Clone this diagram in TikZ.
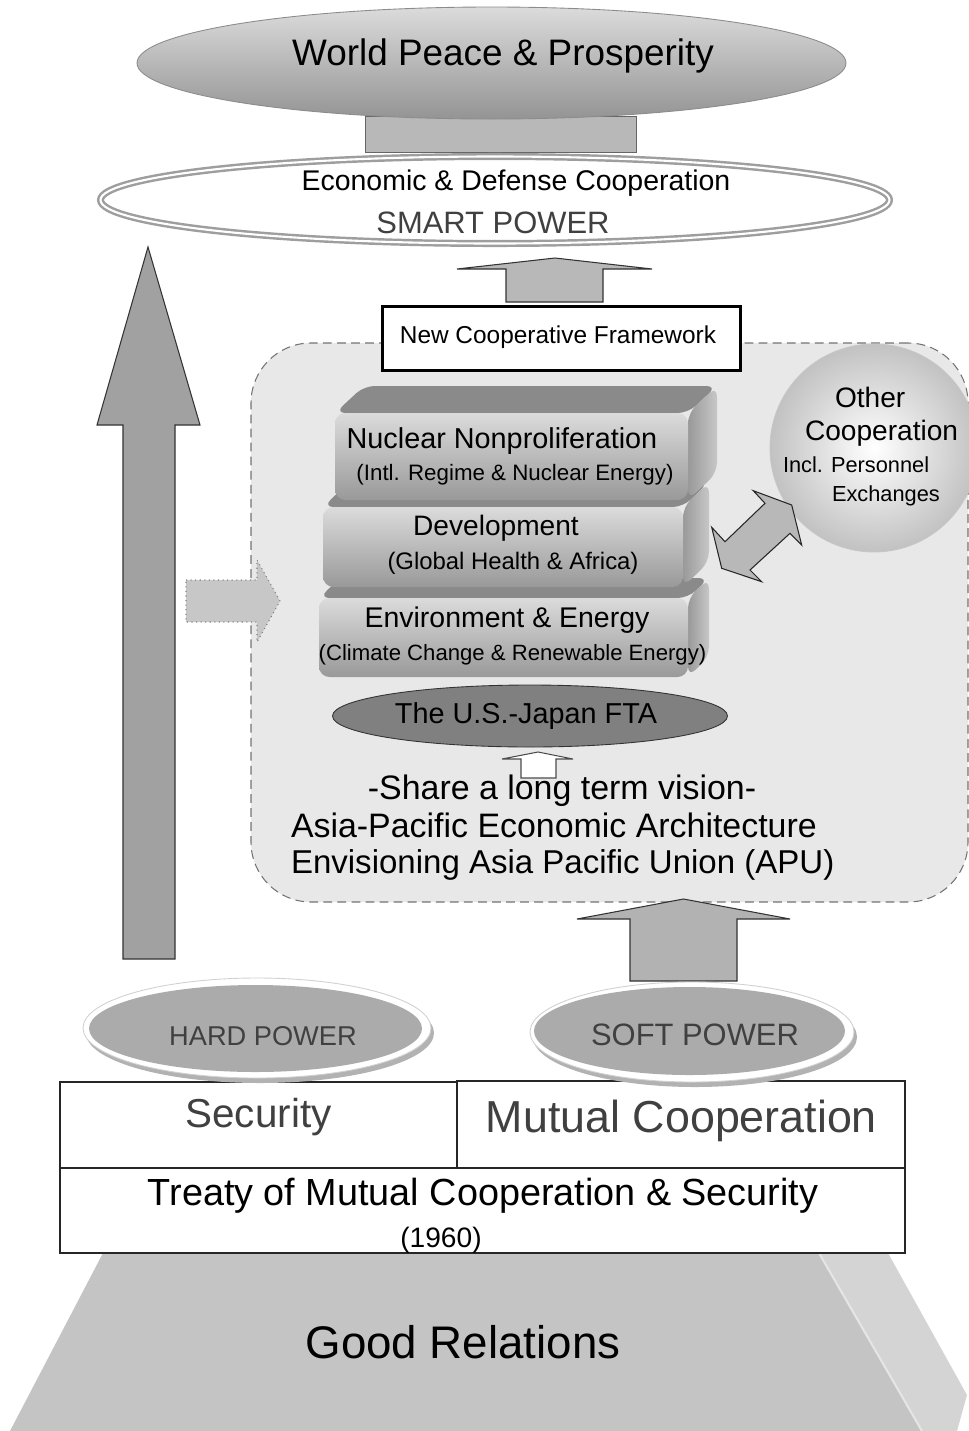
\documentclass[tikz,border=0pt]{standalone}
\usepackage{fontspec}
\setmainfont{Liberation Sans}
\usetikzlibrary{shapes.geometric,positioning}
\newlength\pxu
\setlength\pxu{0.02cm}
\newcommand\fsz[1]{\fontsize{#1pt}{#1pt}\selectfont}

\begin{document}
\begin{tikzpicture}[
    x=0.02cm, y=0.02cm,
    every node/.style={inner sep=0pt, outer sep=0pt},
    lbl/.style={anchor=base},
    grey/.style={text=black!75},
    oval/.style={
        ellipse, draw=black!45, line width=0.5pt,
        top color=black!14, bottom color=black!42
    },
    ring/.style={
        ellipse, draw=black!38, line width=1.4pt,
        double=white, double distance=1.2pt
    },
    pillar/.style={fill=black!28, draw=black!60, line width=0.5pt},
    blockarr/.style={fill=black!28, draw=black!80, line width=0.6pt},
    region/.style={
        rectangle, rounded corners=1.2cm, fill=black!9,
        draw=black!55, dash pattern=on 5pt off 3pt, line width=0.6pt
    },
    framebox/.style={rectangle, draw=black, line width=1.6pt, fill=white},
    slab/.style={
        rectangle, rounded corners=6pt,
        top color=black!14, bottom color=black!40
    },
    slabtop/.style={fill=black!46, rounded corners=6pt},
    slabside/.style={left color=black!40, right color=black!22, rounded corners=6pt},
    fta/.style={ellipse, fill=black!50, draw=black!80, line width=0.5pt},
    bubble/.style={
        circle, draw=black!22, line width=0.5pt,
        inner color=white, outer color=black!24
    },
    rim/.style={ellipse, fill=white, draw=black!18, line width=0.5pt},
    rimshadow/.style={ellipse, fill=black!30},
    power/.style={ellipse, fill=black!33},
    cell/.style={rectangle, draw=black!85, fill=white, line width=0.6pt},
    ground/.style={fill=black!23},
    groundside/.style={fill=black!17}
]
    \useasboundingbox (0,0) rectangle (969,-1431);

    % foundation
    \fill[groundside] (819,-1253) -- (888,-1253) -- (967,-1395) -- (957,-1431) -- (922,-1431) -- cycle;
    \fill[ground] (103,-1253) -- (819,-1253) -- (922,-1431) -- (10,-1431) -- cycle;
    \draw[black!10, line width=1.2pt] (819,-1253) -- (922,-1431);
    \node[lbl, font=\fsz{26}] (good) at (463,-1358) {Good Relations};

    % treaty
    \node[cell, minimum width={397*\pxu}, minimum height={86*\pxu}] (secbox) at (258.5,-1125) {};
    \node[cell, minimum width={448*\pxu}, minimum height={87*\pxu}] (mutbox) at (681,-1124.5) {};
    \node[cell, minimum width={845*\pxu}, minimum height={85*\pxu}] (treaty) at (482.5,-1210.5) {};
    \node[lbl, grey, font=\fsz{23}] (sectext) at (258.5,-1127) {Security};
    \node[lbl, grey, font=\fsz{25.5}] (muttext) at (681.5,-1132) {Mutual Cooperation};
    \node[lbl, font=\fsz{21.5}] (treatytext) at (483,-1205) {Treaty of Mutual Cooperation \& Security};
    \node[lbl, font=\fsz{16}] (year) at (441,-1247) {(1960)};

    % hard power rises to smart power
    \draw[blockarr, fill=black!37] (123,-959) -- (123,-425) -- (97,-425) -- (148,-247)
        -- (200,-425) -- (175,-425) -- (175,-959) -- cycle;

    % new framework
    \node[region, minimum width={717*\pxu}, minimum height={559*\pxu}] (frame) at (609.5,-622.5) {};
    \draw[blockarr, fill=black!22, draw=black!50, dotted] (186,-580) -- (257,-580) -- (257,-560)
        -- (280,-601) -- (257,-642) -- (257,-622) -- (186,-622) -- cycle;
    \draw[blockarr, fill=black!30] (577,-919) -- (683.5,-899) -- (790,-919) -- (737,-919)
        -- (737,-981) -- (630,-981) -- (630,-919) -- cycle;

    \node[framebox, minimum width={358*\pxu}, minimum height={64*\pxu}] (ncf) at (561.5,-338.5) {};
    \node[lbl, font=\fsz{13.9}] (ncftext) at (558,-343) {New Cooperative Framework};

    % slabs
    \fill[slabtop] (319,-598) -- (340,-578) -- (709,-578) -- (688,-598) -- cycle;
    \shade[slabside] (688,-598) -- (709,-578) -- (709,-657) -- (688,-677) -- cycle;
    \node[slab, minimum width={369*\pxu}, minimum height={79*\pxu}] (env) at (503.5,-637.5) {};
    \node[lbl, font=\fsz{16.2}] (envtitle) at (507,-627) {Environment \& Energy};
    \node[lbl, font=\fsz{12.6}] (envsub) at (512.5,-660) {(Climate Change \& Renewable Energy)};

    \fill[slabtop] (323,-507) -- (349,-482) -- (709,-482) -- (683,-507) -- cycle;
    \shade[slabside] (683,-507) -- (709,-482) -- (709,-562) -- (683,-587) -- cycle;
    \node[slab, minimum width={360*\pxu}, minimum height={80*\pxu}] (dev) at (503,-547) {};
    \node[lbl, font=\fsz{16}] (devtitle) at (496,-535) {Development};
    \node[lbl, font=\fsz{13.6}] (devsub) at (513,-569) {(Global Health \& Africa)};

    \fill[slabtop] (335,-413) -- (364,-386) -- (717,-386) -- (688,-413) -- cycle;
    \shade[slabside] (688,-413) -- (717,-386) -- (717,-473) -- (688,-500) -- cycle;
    \node[slab, minimum width={353*\pxu}, minimum height={87*\pxu}] (nuc) at (511.5,-456.5) {};
    \node[lbl, font=\fsz{16.4}] (nuctitle) at (502,-448) {Nuclear Nonproliferation};
    \node[lbl, font=\fsz{12.7}] (nucsub) at (515,-480) {(Intl. Regime \& Nuclear Energy)};

    % other cooperation
    \node[bubble, minimum size={208*\pxu}] (other) at (874,-448) {};
    \node[anchor=base west, font=\fsz{16}] (othera) at (835,-407) {Other};
    \node[anchor=base west, font=\fsz{16}] (otherb) at (805,-440) {Cooperation};
    \node[anchor=base west, font=\fsz{12.4}] (otherc) at (783,-472) {Incl. Personnel};
    \node[anchor=base west, font=\fsz{12.4}] (otherd) at (832,-501) {Exchanges};
    \draw[blockarr, draw=black!85] (753.3,-490.7) -- (791.7,-505) -- (801.7,-545) -- (790,-533.3)
        -- (750,-570) -- (761.7,-581.7) -- (721.7,-568.3) -- (711.7,-527.3)
        -- (725,-541.7) -- (765,-503.3) -- cycle;

    % FTA and vision
    \node[fta, minimum width={395*\pxu}, minimum height={62*\pxu}] (ftaoval) at (530,-716) {};
    \node[lbl, font=\fsz{16.4}] (ftatext) at (526,-723) {The U.S.-Japan FTA};
    \draw[blockarr, fill=white, draw=black!70] (502,-759) -- (538,-752) -- (573,-759) -- (556,-759)
        -- (556,-778) -- (521,-778) -- (521,-759) -- cycle;
    \node[lbl, font=\fsz{19.3}] (vision) at (562,-799) {-Share a long term vision-};
    \node[anchor=base west, font=\fsz{19.3}] (apea) at (291,-837) {Asia-Pacific Economic Architecture};
    \node[anchor=base west, font=\fsz{18.8}] (apu) at (291,-873) {Envisioning Asia Pacific Union (APU)};

    % hard and soft power
    \node[rimshadow, minimum width={348*\pxu}, minimum height={100*\pxu}] (hardshadow) at (260,-1033) {};
    \node[rim, minimum width={348*\pxu}, minimum height={100*\pxu}] (hardrim) at (257,-1028) {};
    \node[power, minimum width={333*\pxu}, minimum height={87*\pxu}] (hard) at (255.5,-1028.5) {};
    \node[lbl, grey, font=\fsz{15.5}] (hardtext) at (263,-1045) {HARD POWER};

    \node[rimshadow, minimum width={324*\pxu}, minimum height={100*\pxu}] (softshadow) at (695,-1037) {};
    \node[rim, minimum width={324*\pxu}, minimum height={100*\pxu}] (softrim) at (692,-1032) {};
    \node[power, minimum width={311*\pxu}, minimum height={88*\pxu}] (soft) at (689.5,-1031) {};
    \node[lbl, grey, font=\fsz{17.6}] (softtext) at (695,-1045) {SOFT POWER};

    % smart power on top
    \draw[blockarr] (457,-269) -- (555,-258) -- (652,-269) -- (603,-269)
        -- (603,-302) -- (506,-302) -- (506,-269) -- cycle;
    \draw[pillar] (365,-116) rectangle (636,-152);
    \node[oval, minimum width={709*\pxu}, minimum height={112*\pxu}] (peace) at (491.5,-63) {};
    \node[lbl, font=\fsz{21}] (peacetext) at (503,-65) {World Peace \& Prosperity};
    \node[ring, minimum width={789*\pxu}, minimum height={87*\pxu}] (smart) at (495,-200) {};
    \node[lbl, font=\fsz{16.2}] (smarta) at (516,-190) {Economic \& Defense Cooperation};
    \node[lbl, grey, font=\fsz{17.6}] (smartb) at (493,-233) {SMART POWER};
\end{tikzpicture}
\end{document}
